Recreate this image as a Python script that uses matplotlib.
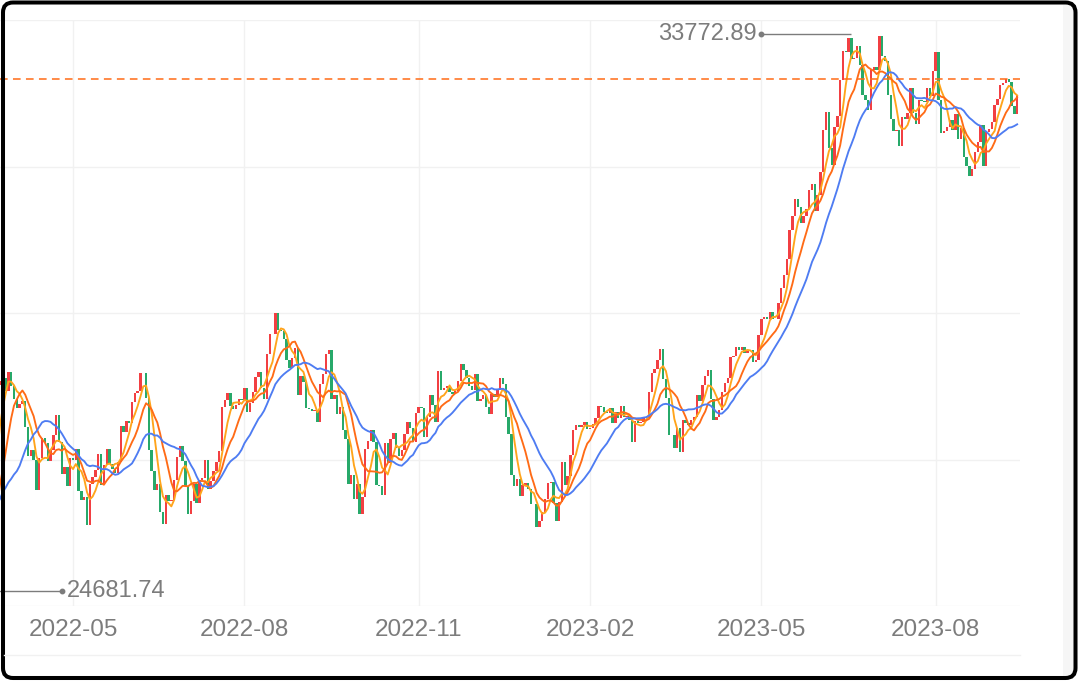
import matplotlib
matplotlib.use("Agg")
import matplotlib.pyplot as plt
from matplotlib.patches import FancyBboxPatch, Rectangle
from matplotlib.lines import Line2D
from matplotlib.transforms import IdentityTransform
import numpy as np
import pandas as pd

# daily closes, one list per month
close_2022_02 = [27078, 27533, 27241, 27440, 27249, 27285, 27580, 27696, 27079, 26865,
                 27460, 27232, 27122, 26910, 26449, 25970, 26476, 26527]
close_2022_03 = [26844, 26393, 26577, 25985, 25221, 24791, 24718, 25690, 25163, 25308, 25346,
                 25762, 26653, 26828, 27224, 28040, 28110, 28150, 27944, 28252, 28028, 27821]
close_2022_04 = [27666, 27736, 27788, 27350, 26889, 26986, 26822, 26335, 26843, 27173,
                 27093, 26800, 26985, 27218, 27553, 27105, 26591, 26700, 26387, 26848]
close_2022_05 = [26818, 27004, 26319, 26167, 26214, 25749, 26428, 26547, 26659, 26911,
                 26403, 26739, 27002, 26749, 26678, 26605, 26782, 27370, 27280]
close_2022_06 = [27458, 27414, 27762, 27916, 27944, 28234, 28247, 27824, 26988, 26630, 26327,
                 26432, 25963, 25771, 26246, 26150, 26171, 26491, 26872, 27049, 26805, 26393]
close_2022_07 = [25936, 26153, 26423, 26108, 26491, 26517, 26812, 26337, 26479, 26643,
                 26788, 26962, 27681, 27803, 27915, 27699, 27655, 27716, 27816, 27802]
close_2022_08 = [27994, 27595, 27742, 27932, 28176, 28250, 28000, 27819, 28547, 28872, 28869,
                 29223, 28943, 28931, 28795, 28453, 28314, 28480, 28642, 27879, 28196, 28092]
close_2022_09 = [27662, 27651, 27620, 27627, 27431, 28066, 28215, 28543, 28615, 27819,
                 27876, 27568, 27689, 27314, 27154, 26432, 26572, 26174, 26423, 25937]
close_2022_10 = [26216, 26992, 27121, 27312, 27116, 26401, 26397, 26238, 27091, 26776,
                 27156, 27257, 27007, 26891, 26975, 27250, 27432, 27346, 27105, 27587]
close_2022_11 = [27679, 27664, 27200, 27528, 27873, 27716, 27446, 28264, 27963, 27991,
                 28029, 27931, 27900, 27945, 28116, 28384, 28283, 28163, 28028, 27969]
close_2022_12 = [28227, 27778, 27821, 27886, 27686, 27575, 27901, 27842, 27954, 28156, 28052,
                 27527, 27238, 26568, 26388, 26508, 26236, 26406, 26448, 26341, 26094, 26095]
close_2023_01 = [25717, 25821, 25974, 26176, 26447, 26450, 26120, 25822, 26139, 26791,
                 26406, 26554, 26907, 27300, 27396, 27363, 27383, 27433, 27327]
close_2023_02 = [27347, 27402, 27509, 27694, 27686, 27607, 27584, 27671, 27427, 27602,
                 27502, 27697, 27514, 27532, 27473, 27104, 27454, 27424, 27446]
close_2023_03 = [27517, 27499, 27927, 28238, 28310, 28444, 28624, 28144, 27833, 27223, 27229,
                 27011, 27334, 26946, 27467, 27420, 27385, 27477, 27519, 27884, 27783, 28041]
close_2023_04 = [28188, 28287, 27813, 27473, 27518, 27634, 27923, 28082, 28157, 28493,
                 28515, 28659, 28607, 28658, 28564, 28593, 28621, 28417, 28458, 28856]
close_2023_05 = [29124, 29158, 29123, 29243, 29123, 29127, 29388, 29627, 29843, 30094,
                 30574, 30808, 31086, 30958, 30683, 30802, 30917, 31234, 31329, 30888]
close_2023_06 = [31148, 31524, 32217, 32507, 31914, 31641, 32265, 32434, 33019, 33502, 33485,
                 33706, 33370, 33389, 33575, 33265, 32782, 32699, 32538, 33194, 33234, 33189]
close_2023_07 = [33753, 33423, 33339, 32774, 32389, 32190, 32204, 31944, 32420, 32392,
                 32494, 32897, 32491, 32305, 32701, 32683, 32669, 32892, 32760, 33172]
close_2023_08 = [33476, 32707, 32159, 32193, 32255, 32377, 32205, 32474, 32060, 32239, 31767,
                 31627, 31451, 31566, 31857, 32011, 32288, 31625, 32170, 32227, 32333, 32619]
close_2023_09 = [32711, 32939, 32976, 33037, 32991, 32607, 32468, 32776]

closes = (close_2022_02 + close_2022_03 + close_2022_04 + close_2022_05 + close_2022_06
          + close_2022_07 + close_2022_08 + close_2022_09 + close_2022_10 + close_2022_11
          + close_2022_12 + close_2023_01 + close_2023_02 + close_2023_03 + close_2023_04
          + close_2023_05 + close_2023_06 + close_2023_07 + close_2023_08 + close_2023_09)

# exchange holidays (weekdays with no trading)
holidays = ["2022-02-11", "2022-02-23", "2022-03-21", "2022-04-29", "2022-05-03", "2022-05-04",
            "2022-05-05", "2022-07-18", "2022-08-11", "2022-09-19", "2022-09-23", "2022-10-10",
            "2022-11-03", "2022-11-23", "2023-01-02", "2023-01-03", "2023-01-09", "2023-02-23",
            "2023-03-21", "2023-05-03", "2023-05-04", "2023-05-05", "2023-07-17", "2023-08-11"]

ma_periods = [5, 10, 20]
ma_colors = ["#FFA41B", "#FF6B16", "#4E7CF2"]

high_mark = ("2023-06-19", 33772.89)
low_mark = ("2022-03-09", 24681.74)
last_price = 33050

tick_months = ["2022-05", "2022-08", "2022-11", "2023-02", "2023-05", "2023-08"]

UP = "#F23F42"
DOWN = "#27A96A"
GREY = "#7C7C7C"
FONT = "Liberation Sans"

dates = pd.bdate_range("2022-02-01", "2023-09-12", freq="C", holidays=holidays)
s = pd.Series(closes, index=dates, dtype=float)
opens = s.shift(1).fillna(s.iloc[0])
x = np.arange(len(s))

fig = plt.figure(figsize=(10.8, 6.81), dpi=100)
fig.patch.set_facecolor("white")
ax = fig.add_axes([0, 75 / 681, 1020 / 1080, 586 / 681])

# candles
body = s.values - opens.values
up = body >= 0
ax.bar(x[up], body[up], bottom=opens.values[up], width=0.85, color=UP, linewidth=0, zorder=2)
ax.bar(x[~up], body[~up], bottom=opens.values[~up], width=0.85, color=DOWN, linewidth=0, zorder=2)

# moving averages
for p, c in zip(ma_periods, ma_colors):
    ax.plot(x, s.rolling(p).mean().values, color=c, lw=1.35, zorder=3)

# last price line
ax.axhline(last_price, color="#FF6B16", lw=1.1, dashes=(5, 3.5), zorder=4)

# high / low marks
def price_mark(date, price, toward):
    i = dates.get_loc(pd.Timestamp(date))
    j = i + 32 * toward
    ax.plot([i, j], [price, price], color=GREY, lw=1.0, zorder=5, solid_capstyle="butt")
    ax.plot(j, price, "o", ms=3.2, color=GREY, zorder=5)
    ax.annotate(f"{price:.2f}", (j, price), xytext=(3.4 * toward, 0), textcoords="offset points",
                ha="left" if toward > 0 else "right", va="center", color=GREY,
                fontsize=17, family=FONT, zorder=6)

price_mark(*high_mark, toward=-1)
price_mark(*low_mark, toward=1)

# axes
spacing = 2.81
i0 = dates.searchsorted(pd.Timestamp(tick_months[0] + "-01"))
left = i0 - 73 / spacing
ax.set_xlim(left, left + 1020 / spacing)
ax.set_ylim(24432, 34007)
ax.set_yticks(np.linspace(24432, 34007, 5))
tick_pos = [dates.searchsorted(pd.Timestamp(m + "-01")) for m in tick_months]
ax.set_xticks(tick_pos)
ax.set_xticklabels(tick_months, fontsize=17.5, family=FONT, color=GREY)
ax.tick_params(axis="x", length=0, pad=9.5)
ax.tick_params(axis="y", left=False, labelleft=False)
ax.grid(True, color="#F1F1F1", lw=1.0, zorder=0)
ax.set_axisbelow(True)
for sp in ax.spines.values():
    sp.set_visible(False)

# frame pieces
fig.add_artist(Line2D([4, 1020], [681 - 655, 681 - 655], color="#F1F1F1", lw=1.0,
                      transform=IdentityTransform()))
fig.add_artist(Rectangle((1063, 5), 10, 671, color="#F6F6F6", lw=0,
                         transform=IdentityTransform()))
fig.add_artist(FancyBboxPatch((3, 3), 1072.5, 675.5, boxstyle="round,pad=0,rounding_size=10",
                              fill=False, ec="black", lw=2.9, transform=IdentityTransform()))

fig.savefig("out.png", dpi=100)
